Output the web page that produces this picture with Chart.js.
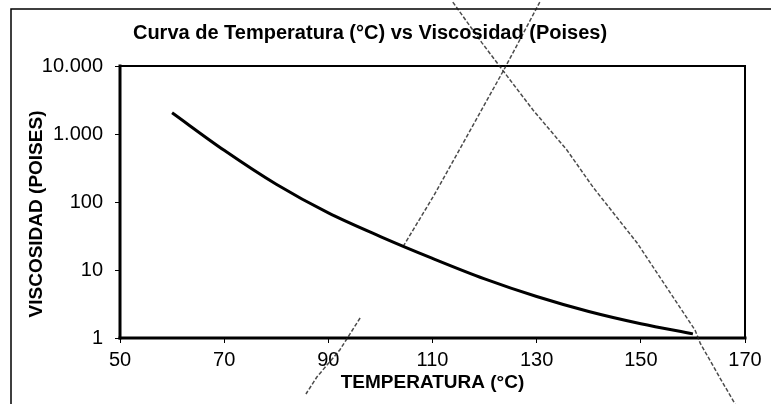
<!DOCTYPE html>
<html>
<head>
<meta charset="utf-8">
<script src="https://cdn.jsdelivr.net/npm/chart.js@4.4.1/dist/chart.umd.min.js"></script>
<style>
  html, body { margin: 0; padding: 0; background: #fff; }
  #wrap { width: 771px; height: 404px; position: relative; }
</style>
</head>
<body>
<div id="wrap"><canvas id="chart" width="771" height="404"></canvas></div>
<script>
// Viscosity curve (Poises) against temperature (°C)
const temperatures = [60, 70, 80, 90, 100, 110, 120, 130, 140, 150, 160];
const viscosity    = [2050, 575, 182, 69, 31, 14.8, 7.4, 4.07, 2.45, 1.62, 1.15];

// Axis ticks
const xTicks = [50, 70, 90, 110, 130, 150, 170];
const yTicks = [1, 10, 100, 1000, 10000];

// Pencil construction lines drawn over the printed chart
const penA1_T = [130.6, 123.9, 115.9, 110.1, 104.3];
const penA1_V = [87000, 9350, 738, 118.5, 21.8];
const penA2_T = [96.1, 92.2, 87.8, 85.7];
const penA2_V = [1.97, 0.667, 0.267, 0.15];
const penB_T  = [113.9, 119.5, 123.0, 129.3, 135.8, 140.8, 149.3, 160.4, 161.4, 165.2, 168.1];
const penB_V  = [87000, 21900, 9670, 2250, 582, 166, 24.9, 1.31, 0.84, 0.258, 0.107];

const TITLE = 'Curva de Temperatura (°C) vs Viscosidad (Poises)';
const X_TITLE = 'TEMPERATURA (°C)';
const Y_TITLE = 'VISCOSIDAD (POISES)';
const FONT = '"Liberation Sans", Arial, Helvetica, sans-serif';

const pts = (xs, ys) => xs.map((x, i) => ({ x: x, y: ys[i] }));
const fmt = v => String(v).replace(/\B(?=(\d{3})+(?!\d))/g, '.');

const penStyle = {
  borderColor: 'rgba(30,30,30,0.8)',
  borderWidth: 1.5,
  borderDash: [4, 2],
  pointRadius: 0,
  tension: 0,
  clip: false
};

// Frame around the plot area, page border and text
const framePlugin = {
  id: 'frame',
  beforeDatasetsDraw(chart) {
    const { ctx, chartArea: a } = chart;
    ctx.save();
    ctx.strokeStyle = '#000';
    ctx.lineCap = 'square';
    ctx.lineWidth = 2;
    ctx.beginPath(); ctx.moveTo(a.left, a.top); ctx.lineTo(a.right, a.top); ctx.stroke();
    ctx.beginPath(); ctx.moveTo(a.right, a.top); ctx.lineTo(a.right, a.bottom); ctx.stroke();
    ctx.lineWidth = 3;
    ctx.beginPath(); ctx.moveTo(a.left, a.top); ctx.lineTo(a.left, a.bottom); ctx.stroke();
    ctx.beginPath(); ctx.moveTo(a.left, a.bottom); ctx.lineTo(a.right, a.bottom); ctx.stroke();
    // outer page border (left and top)
    ctx.lineWidth = 1.5;
    ctx.beginPath(); ctx.moveTo(11, 404); ctx.lineTo(11, 9); ctx.lineTo(771, 9); ctx.stroke();
    ctx.restore();
  },
  afterDraw(chart) {
    const { ctx, chartArea: a } = chart;
    ctx.save();
    ctx.fillStyle = '#000';
    ctx.textAlign = 'center';
    ctx.textBaseline = 'middle';
    ctx.font = 'bold 20px ' + FONT;
    ctx.fillText(TITLE, 370, 33);
    ctx.font = 'bold 19px ' + FONT;
    ctx.fillText(X_TITLE, (a.left + a.right) / 2, 383);
    ctx.translate(37, 214);
    ctx.rotate(-Math.PI / 2);
    ctx.fillText(Y_TITLE, 0, 0);
    ctx.restore();
  }
};

new Chart(document.getElementById('chart'), {
  type: 'line',
  data: {
    datasets: [
      {
        data: pts(temperatures, viscosity),
        borderColor: '#000',
        borderWidth: 3,
        pointRadius: 0,
        cubicInterpolationMode: 'monotone',
        fill: false
      },
      Object.assign({ data: pts(penA1_T, penA1_V) }, penStyle),
      Object.assign({ data: pts(penA2_T, penA2_V) }, penStyle),
      Object.assign({ data: pts(penB_T, penB_V) }, penStyle)
    ]
  },
  options: {
    responsive: false,
    animation: false,
    devicePixelRatio: 1,
    layout: { padding: { left: 0, right: 26, top: 66, bottom: 0 } },
    plugins: {
      legend: { display: false },
      tooltip: { enabled: false },
      title: { display: false }
    },
    scales: {
      x: {
        type: 'linear',
        min: 50,
        max: 170,
        afterBuildTicks: s => { s.ticks = xTicks.map(v => ({ value: v })); },
        afterFit: s => { s.height = 66; },
        grid: { display: true, drawOnChartArea: false, tickLength: 5, color: '#000', lineWidth: 1 },
        border: { display: false },
        ticks: { color: '#000', font: { family: FONT, size: 20 }, padding: 5, maxRotation: 0, autoSkip: false }
      },
      y: {
        type: 'logarithmic',
        min: 1,
        max: 10000,
        afterBuildTicks: s => { s.ticks = yTicks.map(v => ({ value: v })); },
        afterFit: s => { s.width = 120; },
        grid: { display: true, drawOnChartArea: false, tickLength: 5, color: '#000', lineWidth: 1 },
        border: { display: false },
        ticks: { color: '#000', font: { family: FONT, size: 20 }, padding: 12, callback: v => fmt(v) }
      }
    }
  },
  plugins: [framePlugin]
});
</script>
</body>
</html>
